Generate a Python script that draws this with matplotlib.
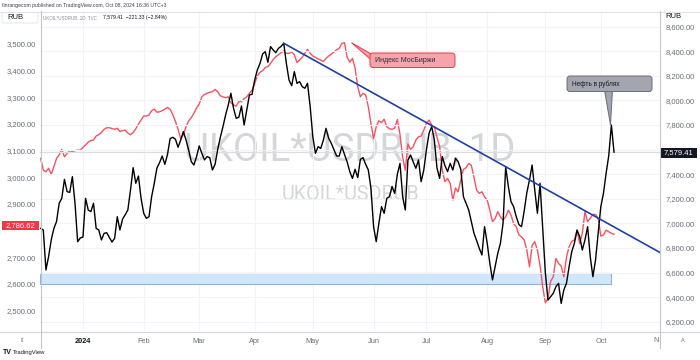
import numpy as np
import pandas as pd
import matplotlib
matplotlib.use('Agg')
import matplotlib.pyplot as plt
from matplotlib import font_manager
from matplotlib.patches import FancyBboxPatch, Polygon, Rectangle
from matplotlib.lines import Line2D
from matplotlib.transforms import Affine2D

# daily closes, first bar 2023-12-08, last bar 2024-10-08
start = '2023-12-08'
moex = [3071, 3027, 3021, 3034, 3011, 3040, 3071, 3084, 3105, 3077,
        3090, 3100, 3096, 3100, 3102, 3102, 3112, 3122, 3132, 3138,
        3140, 3155, 3160, 3168, 3180, 3186, 3186, 3183, 3180, 3184,
        3172, 3175, 3177, 3166, 3160, 3168, 3182, 3200, 3215, 3230,
        3230, 3234, 3250, 3256, 3244, 3246, 3250, 3256, 3262, 3255,
        3235, 3210, 3180, 3146, 3160, 3190, 3212, 3224, 3240, 3260,
        3275, 3302, 3311, 3315, 3319, 3321, 3330, 3321, 3306, 3302,
        3299, 3302, 3280, 3271, 3267, 3284, 3284, 3295, 3302, 3315,
        3327, 3352, 3380, 3394, 3400, 3412, 3415, 3427, 3442, 3452,
        3460, 3467, 3474, 3465, 3465, 3470, 3460, 3431, 3440, 3450,
        3465, 3480, 3465, 3455, 3450, 3444, 3440, 3434, 3446, 3455,
        3462, 3470, 3478, 3484, 3502, 3505, 3450, 3432, 3446, 3410,
        3340, 3302, 3315, 3309, 3265, 3202, 3146, 3190, 3212, 3205,
        3218, 3190, 3182, 3180, 3185, 3217, 3160, 3075, 3027, 3125,
        3105, 3115, 3140, 3152, 3155, 3177, 3202, 3215, 3196, 3190,
        3150, 3115, 3027, 2984, 2996, 2977, 2915, 2960, 2946, 2990,
        3030, 3036, 3052, 3045, 3000, 2952, 2940, 2946, 2927, 2915,
        2877, 2834, 2846, 2871, 2852, 2840, 2852, 2877, 2859, 2827,
        2815, 2784, 2777, 2765, 2727, 2665, 2745, 2759, 2727, 2670,
        2590, 2530, 2545, 2610, 2627, 2696, 2677, 2668, 2627, 2700,
        2740, 2760, 2765, 2800, 2752, 2790, 2871, 2834, 2846, 2861,
        2861, 2846, 2780, 2784, 2802, 2796, 2790, 2786.62]
oil_rub = [6959, 6946, 6621, 6729, 6865, 6959, 7014, 7163, 7204, 7358,
           7258, 7252, 7380, 7163, 6851, 6881, 6888, 7204, 7109, 7095,
           7163, 6959, 6946, 6865, 6919, 6924, 6886, 6848, 6878, 7054,
           6946, 7035, 7070, 7109, 7271, 7453, 7326, 7385, 7204, 7082,
           7041, 7054, 7217, 7326, 7450, 7494, 7548, 7480, 7560, 7690,
           7700, 7685, 7619, 7678, 7746, 7680, 7597, 7502, 7475, 7543,
           7630, 7570, 7516, 7543, 7534, 7434, 7480, 7600, 7700, 7787,
           7882, 7963, 8058, 7936, 7855, 7863, 7955, 7800, 7922, 8044,
           8050, 8166, 8248, 8300, 8378, 8397, 8310, 8438, 8411, 8389,
           8424, 8440, 8465, 8300, 8166, 8120, 8234, 8139, 8153, 8112,
           8099, 8139, 7950, 7705, 7570, 7624, 7610, 7678, 7773, 7692,
           7651, 7600, 7548, 7548, 7624, 7560, 7500, 7420, 7366, 7440,
           7372, 7520, 7535, 7480, 7435, 7285, 6973, 6851, 7000, 7136,
           7082, 7204, 7217, 7300, 7244, 7400, 7488, 7217, 7109, 7516,
           7556, 7500, 7448, 7516, 7339, 7434, 7600, 7733, 7787, 7678,
           7450, 7366, 7543, 7470, 7421, 7488, 7434, 7529, 7502, 7440,
           7217, 7163, 7109, 7014, 6919, 6860, 6797, 6743, 6973, 6838,
           6675, 6540, 6648, 6756, 6838, 7000, 7461, 7300, 7177, 7136,
           7054, 6990, 6973, 7100, 7250, 7353, 7475, 7271, 7082, 7326,
           6960, 6600, 6376, 6404, 6431, 6485, 6512, 6349, 6458, 6512,
           6648, 6770, 6838, 6946, 6892, 6783, 6865, 6973, 6729, 6566,
           6702, 6919, 7136, 7244, 7407, 7550, 7800, 7579.41]

month_dates = ['2024-01-01', '2024-02-01', '2024-03-01', '2024-04-01', '2024-05-01',
               '2024-06-01', '2024-07-01', '2024-08-01', '2024-09-01', '2024-10-01']
month_labels = ['2024', 'Feb', 'Mar', 'Apr', 'May', 'Jun', 'Jul', 'Aug', 'Sep', 'Oct']
left_ticks = list(range(2500, 3501, 100))
right_ticks = list(range(6200, 8601, 200))

trend_dates = ['2024-04-16', '2024-11-08']
trend_vals = [8465, 6696]
zone_low, zone_high = 2600, 2642
zone_end = '2024-10-07'

title = 'finrangecom published on TradingView.com, Oct 08, 2024 16:36 UTC+3'
symbol = 'UKOIL*USDRUB, 1D, TVC'
last_oil = 7579.41
last_moex = 2786.62
change = '\u2212221.33 (\u22122.84%)'

plt.rcParams['font.family'] = ['Liberation Sans', 'DejaVu Sans']


def has_font(name):
    try:
        font_manager.findfont(name, fallback_to_default=False)
        return True
    except ValueError:
        return False


wm_font = 'Liberation Sans Narrow' if has_font('Liberation Sans Narrow') else 'Roboto'

W, H = 700, 360
fig = plt.figure(figsize=(7, 3.6), dpi=100)
# pixel coords measured from the top-left corner
T = Affine2D().scale(1 / 100, -1 / 100).translate(0, 3.6) + fig.dpi_scale_trans
r = fig.canvas.get_renderer()


def fit(t, target):
    w = t.get_window_extent(renderer=r).width
    t.set_fontsize(t.get_fontsize() * target / w)


ax = fig.add_axes([40 / W, 1 - 331 / H, 620 / W, 320 / H])
ax2 = ax.twinx()

dates = pd.bdate_range(start, periods=len(moex)).values.astype('datetime64[D]')
x = np.busday_count(start, dates)
mx = np.busday_count(start, np.array(month_dates, dtype='datetime64[D]'))
tx = np.busday_count(start, np.array(trend_dates, dtype='datetime64[D]'))
zx = np.busday_count(start, np.datetime64(zone_end))

x0, x1 = -0.25, 234.4
ax.set_xlim(x0, x1)
ax.set_ylim(2423.9, 3623.75)
ax2.set_ylim(6124.3, 8727.7)

# watermark
wm1 = ax.text(0.5, 0.566, 'UKOIL*USDRUB, 1D', transform=ax.transAxes, ha='center', va='center',
              color='#d5d6da', fontsize=30, family=wm_font, zorder=0)
wm2 = ax.text(0.5, 0.428, 'UKOIL*USDRUB', transform=ax.transAxes, ha='center', va='center',
              color='#d5d6da', fontsize=12, family=wm_font, zorder=0)
fit(wm1, 330)
fit(wm2, 137)

ax.add_patch(Rectangle((x0, zone_low), zx - x0, zone_high - zone_low,
                       fc='#cfe6fb', ec='#8fb4cf', lw=0.8, zorder=1))
ax.plot(x, moex, color='#f7525f', lw=1.0, zorder=2)

ax2.axhline(last_oil, color='#dddddd', lw=0.9, zorder=1)
ax2.plot(x, oil_rub, color='#000000', lw=1.0, zorder=3)
ax2.plot(tx, trend_vals, color='#1f3fa6', lw=1.2, zorder=4)

ax2.set_yticks(right_ticks)
# 7,600 sits under the last-price badge
ax2.set_yticklabels(['' if v == 7600 else f'{v:,.2f}' for v in right_ticks])
ax2.grid(axis='y', color='#f0f3fa', lw=0.8)
ax2.set_axisbelow(True)
ax.set_yticks(left_ticks)
ax.set_yticklabels(['' if v == 2800 else f'{v:,.2f}' for v in left_ticks])
ax.set_xticks(mx)
ax.set_xticklabels(month_labels)
ax.grid(axis='x', color='#f0f3fa', lw=0.8)
ax.set_axisbelow(True)
for a in (ax, ax2):
    for s in a.spines.values():
        s.set_visible(False)
ax.tick_params(axis='y', length=0, pad=3, labelsize=5.5, labelcolor='#6a6d78')
ax2.tick_params(axis='y', length=0, pad=4, labelsize=5.5, labelcolor='#6a6d78')
ax.tick_params(axis='x', length=0, pad=5, labelsize=5.3, labelcolor='#6a6d78')
lab = ax.get_xticklabels()[0]
lab.set_fontweight('bold')
lab.set_color('#131722')

# frame lines
for xs, ys, c in [([0, 700], [11.5, 11.5], '#e0e3eb'), ([0, 700], [331.5, 331.5], '#d1d4dc'),
                  ([40.5, 40.5], [11, 348], '#c3c6ce'), ([659.5, 659.5], [11, 348], '#c3c6ce')]:
    fig.add_artist(Line2D(xs, ys, transform=T, color=c, lw=0.8))

# header texts
fig.text(2, 5.5, title, transform=T, fontsize=3.7, color='#3c3f4a', va='center')
fig.add_artist(FancyBboxPatch((2, 12.5), 36, 10.5, boxstyle='round,pad=0,rounding_size=2',
                              transform=T, fc='white', ec='#e0e3eb', lw=0.6))
fig.text(7, 17.8, 'RUB', transform=T, fontsize=5.5, color='#131722', va='center')
fig.text(665, 17, 'RUB', transform=T, fontsize=5.5, color='#131722', va='center')
st = fig.text(43, 17.5, symbol, transform=T, fontsize=4.2, color='#8a8d96', va='center')
fit(st, 55)
vt = fig.text(103, 17.5, f'{last_oil:,.2f}  {change}', transform=T, fontsize=4.2,
              color='#131722', va='center')
fit(vt, 64)
fig.text(656, 340.5, 'N', transform=T, fontsize=5.3, color='#6a6d78', va='center', ha='center')

# last price labels
fig.add_artist(Rectangle((660.5, 148), 36, 9.5, transform=T, fc='#131722', ec='none'))
fig.text(678.5, 152.8, f'{last_oil:,.2f}', transform=T, fontsize=5.5, color='white',
         ha='center', va='center')
fig.add_artist(Rectangle((2, 220.5), 37, 9.5, transform=T, fc='#f23645', ec='none'))
fig.text(20.5, 225.3, f'{last_moex:,.2f}', transform=T, fontsize=5.5, color='white',
         ha='center', va='center')

# callouts
fig.add_artist(Polygon([(351.5, 42.7), (372, 54.5), (372, 60.5)], transform=T,
                       fc='#f7a3ab', ec='#f23645', lw=0.7))
fig.add_artist(FancyBboxPatch((370, 53), 85, 14.5, boxstyle='round,pad=0,rounding_size=3',
                              transform=T, fc='#f7a3ab', ec='#f23645', lw=0.7))
fig.text(375, 60.3, 'Индекс МосБиржи', transform=T, fontsize=5, color='#2a2e39', va='center')

fig.add_artist(Polygon([(604.5, 90), (612.5, 90), (610.5, 125)], transform=T,
                       fc='#a3a6ae', ec='#6a6d78', lw=0.7))
fig.add_artist(FancyBboxPatch((567, 76), 85, 15.5, boxstyle='round,pad=0,rounding_size=3',
                              transform=T, fc='#a3a6ae', ec='#6a6d78', lw=0.7))
fig.text(571.5, 83.8, 'Нефть в рублях', transform=T, fontsize=4.7, color='#131722', va='center')

# bottom bar
fig.text(22, 340.5, '\u21d5', transform=T, fontsize=4, color='#6a6d78', ha='center', va='center')
fig.text(683, 340.5, 'A', transform=T, fontsize=4, color='#6a6d78', ha='center', va='center')
fig.text(3, 352.5, 'TV', transform=T, fontsize=5, fontweight='bold', color='#131722', va='center')
fig.text(12.5, 352.5, 'TradingView', transform=T, fontsize=4.2, color='#131722', va='center')

fig.savefig('out.png', dpi=100)
